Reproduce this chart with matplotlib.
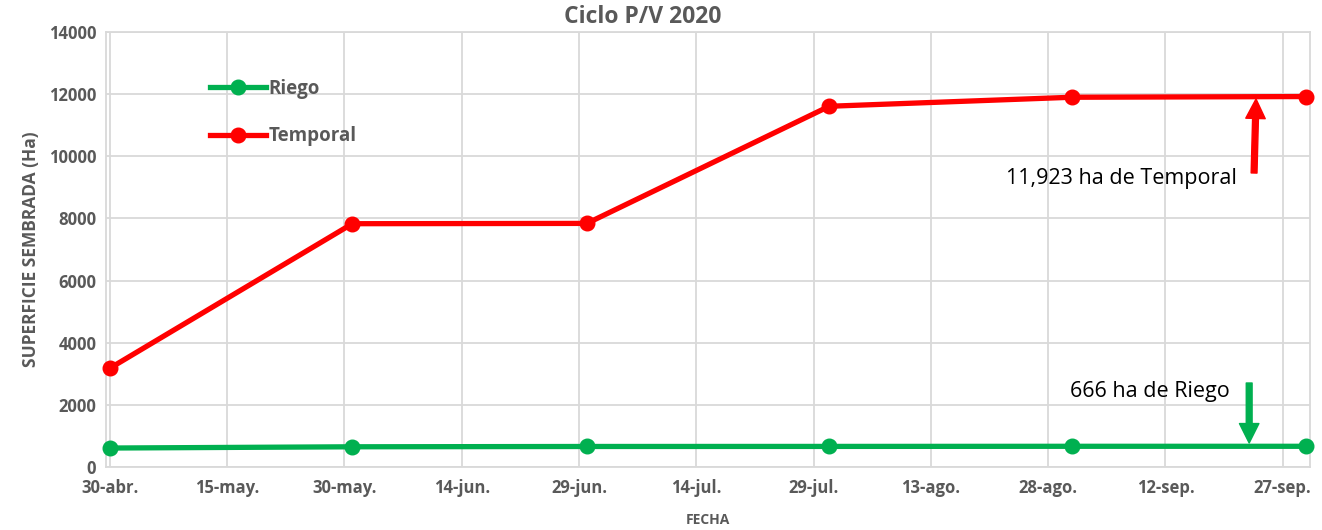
#!/usr/bin/env python3
"""Superficie sembrada, ciclo P/V 2020 (Riego vs Temporal)."""

import matplotlib
matplotlib.use('Agg')
import matplotlib.pyplot as plt
import numpy as np
from datetime import datetime, timedelta

plt.rcParams['font.family'] = ['Open Sans', 'DejaVu Sans']

# ---------------------------------------------------------------------------
# Data
# ---------------------------------------------------------------------------
fechas = [datetime(2020, 4, 30), datetime(2020, 5, 31), datetime(2020, 6, 30),
          datetime(2020, 7, 31), datetime(2020, 8, 31), datetime(2020, 9, 30)]
riego = [610, 650, 660, 662, 666, 666]
temporal = [3180, 7830, 7840, 11610, 11900, 11923]

tick_labels = ['30-abr.', '15-may.', '30-may.', '14-jun.', '29-jun.', '14-jul.',
               '29-jul.', '13-ago.', '28-ago.', '12-sep.', '27-sep.']
tick_start = datetime(2020, 4, 30)

txt_temporal = '11,923 ha de Temporal'
txt_riego = '666 ha de Riego'

c_riego = '#00B050'
c_temporal = '#FF0000'
c_text = '#595959'
c_grid = '#D9D9D9'

# ---------------------------------------------------------------------------
# Plot
# ---------------------------------------------------------------------------
fig = plt.figure(figsize=(13.22, 5.30), dpi=100)
ax = fig.add_axes([0.0802, 0.1189, 0.9108, 0.8207])

ax.plot(fechas, riego, color=c_riego, lw=3.8, marker='o', ms=10.5,
        label='Riego', clip_on=False, zorder=3)
ax.plot(fechas, temporal, color=c_temporal, lw=3.8, marker='o', ms=10.5,
        label='Temporal', clip_on=False, zorder=3)

ticks = [tick_start + timedelta(days=15 * i) for i in range(len(tick_labels))]
ax.set_xticks(ticks)
ax.set_xticklabels(tick_labels)
ax.set_xlim(datetime(2020, 4, 29, 12), datetime(2020, 9, 30, 12))
ax.set_ylim(0, 14000)
ax.set_yticks(np.arange(0, 14001, 2000))

ax.tick_params(length=0, labelsize=12, labelcolor=c_text)
ax.tick_params(axis='x', pad=9)
ax.tick_params(axis='y', pad=7)
for lab in ax.get_xticklabels() + ax.get_yticklabels():
    lab.set_fontweight('bold')

ax.grid(True, color=c_grid, lw=1.3)
ax.set_axisbelow(True)
for s in ax.spines.values():
    s.set_color(c_grid)
    s.set_linewidth(1.3)

fig.text(0.486, 0.967, 'Ciclo P/V 2020', fontsize=16.5, fontweight='bold',
         color=c_text, ha='center', va='center')
ax.set_ylabel('SUPERFICIE SEMBRADA (Ha)', fontsize=12.5, fontweight='bold',
              color=c_text, labelpad=6)
fig.text(0.5355, 0.019, 'FECHA', fontsize=10, fontweight='bold', color=c_text,
         ha='center', va='center')

leg = ax.legend(loc='upper left', bbox_to_anchor=(0.086, 0.892), frameon=False,
                fontsize=13.5, handlelength=3.0, handletextpad=0.15,
                labelspacing=1.45, borderpad=0, borderaxespad=0)
for t in leg.get_texts():
    t.set_color(c_text)
    t.set_fontweight('bold')

# Annotations
arrow_kw = dict(width=4.2, headwidth=14, headlength=14, shrink=0)
ax.annotate('', xy=(datetime(2020, 9, 23, 14), 11844),
            xytext=(datetime(2020, 9, 23, 8), 9462),
            arrowprops=dict(color=c_temporal, **arrow_kw))
ax.text(datetime(2020, 9, 21, 2), 9300, txt_temporal, ha='right', va='center',
        fontsize=15.5, color='black')

ax.annotate('', xy=(datetime(2020, 9, 22, 17), 772),
            xytext=(datetime(2020, 9, 22, 17), 2703),
            arrowprops=dict(color=c_riego, **arrow_kw))
ax.text(datetime(2020, 9, 20, 5), 2414, txt_riego, ha='right', va='center',
        fontsize=15.5, color='black')

fig.savefig('out.png', dpi=100, facecolor='white')
plt.close(fig)
